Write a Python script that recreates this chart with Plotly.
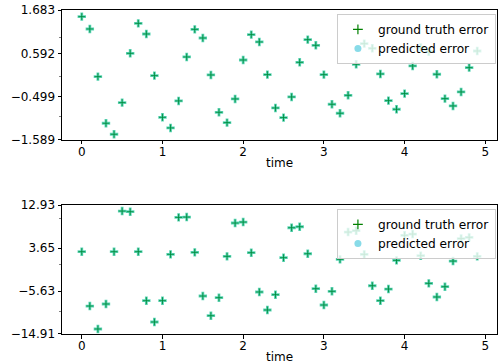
import plotly.graph_objects as go

# Sample times (s)
time = [round(0.1 * i, 1) for i in range(50)]

# Error signal for the first state (top panel)
err_top = [1.515, 1.205, 0.005, -1.169, -1.446, -0.650, 0.592, 1.347, 1.079, 0.030,
           -1.019, -1.287, -0.607, 0.500, 1.196, 0.978, 0.047, -0.893, -1.153, -0.557,
           0.424, 1.062, 0.878, 0.055, -0.784, -1.027, -0.507, 0.366, 0.936, 0.794,
           0.055, -0.691, -0.917, -0.465, 0.316, 0.835, 0.719, 0.072, -0.600, -0.817,
           -0.423, 0.274, 0.740, 0.633, 0.065, -0.549, -0.733, -0.381, 0.231, 0.651]

# Error signal for the second state (bottom panel)
err_bot = [2.86, -8.87, -13.83, -8.43, 2.86, 11.63, 11.49, 2.86, -7.72, -12.32,
           -7.72, 2.29, 10.27, 10.34, 2.72, -6.71, -10.96, -7.07, 1.86, 9.05,
           9.26, 2.64, -5.84, -9.73, -6.43, 1.56, 8.03, 8.25, 2.42, -5.13,
           -8.65, -5.69, 1.21, 7.10, 7.39, 2.29, -4.49, -7.72, -5.20, 0.99,
           6.40, 6.67, 1.99, -3.97, -6.92, -4.70, 0.84, 5.70, 5.96, 1.86]

top_ticks = [-1.589, -0.499, 0.592, 1.683]
top_ticktext = ["\u22121.589", "\u22120.499", "0.592", "1.683"]
bot_ticks = [-14.91, -5.63, 3.65, 12.93]
bot_ticktext = ["\u221214.91", "\u22125.63", "3.65", "12.93"]
x_ticks = [0, 1, 2, 3, 4, 5]

GT_COLOR = "green"
PRED_COLOR = "rgba(40,200,160,0.75)"
FONT = "DejaVu Sans"

fig = go.Figure()

panels = [
    (err_top, "x", "y", "legend"),
    (err_bot, "x2", "y2", "legend2"),
]
for vals, xa, ya, lg in panels:
    # predicted error, drawn as a filled plus
    fig.add_trace(go.Scatter(
        x=time, y=vals, xaxis=xa, yaxis=ya, mode="markers", showlegend=False,
        marker=dict(symbol="cross", size=7, color=PRED_COLOR, line=dict(width=0)),
        hoverinfo="skip"))
    # ground-truth error, thin plus on top
    fig.add_trace(go.Scatter(
        x=time, y=vals, xaxis=xa, yaxis=ya, mode="markers", showlegend=False,
        marker=dict(symbol="cross-thin", size=5, line=dict(width=1, color="rgba(0,140,60,0.9)")),
        hoverinfo="skip"))
    # legend entries
    fig.add_trace(go.Scatter(
        x=[None], y=[None], xaxis=xa, yaxis=ya, mode="markers", name="ground truth error",
        legend=lg,
        marker=dict(symbol="cross-thin", size=7, line=dict(width=1.2, color=GT_COLOR))))
    fig.add_trace(go.Scatter(
        x=[None], y=[None], xaxis=xa, yaxis=ya, mode="markers", name="predicted error",
        legend=lg,
        marker=dict(symbol="circle", size=7, color="rgba(72,200,220,0.65)")))

axis_common = dict(
    showline=True, linecolor="black", linewidth=1, mirror=True,
    ticks="outside", ticklen=3.5, tickwidth=1, tickcolor="black",
    showgrid=False, zeroline=False,
    tickfont=dict(family=FONT, size=12, color="black"),
)

xcommon = dict(axis_common, range=[-0.245, 5.145], tickvals=x_ticks,
               ticklabelstandoff=-3,
               title=dict(text="time", font=dict(family=FONT, size=12, color="black"),
                          standoff=0))

legend_common = dict(xanchor="left", yanchor="top",
                     bgcolor="rgba(255,255,255,0.8)", bordercolor="#cccccc", borderwidth=1,
                     font=dict(family=FONT, size=12.2), tracegroupgap=0, itemwidth=30)

fig.update_layout(
    width=498, height=364,
    margin=dict(l=62, r=1, t=10, b=30, autoexpand=False),
    paper_bgcolor="white", plot_bgcolor="white",
    font=dict(family=FONT, size=12, color="black"),
    xaxis=dict(xcommon, domain=[0, 1], anchor="y"),
    yaxis=dict(axis_common, domain=[0.599, 1.0], anchor="x",
               range=[-1.589, 1.683], tickvals=top_ticks, ticktext=top_ticktext,
               minor=dict(ticks="outside", ticklen=2, tickcolor="gray",
                          tickvals=[-1.0, 0.0, 1.0])),
    xaxis2=dict(xcommon, domain=[0, 1], anchor="y2"),
    yaxis2=dict(axis_common, domain=[0.0, 0.398], anchor="x2",
                range=[-14.91, 12.93], tickvals=bot_ticks, ticktext=bot_ticktext,
                minor=dict(ticks="outside", ticklen=2, tickcolor="gray",
                           tickvals=[-10, 0, 10])),
    legend=dict(legend_common, x=0.632, y=0.988),
    legend2=dict(legend_common, x=0.632, y=0.386),
)

fig.write_html("out.html")
